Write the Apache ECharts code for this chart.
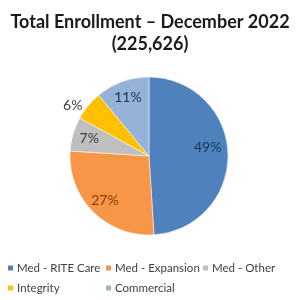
<!DOCTYPE html>
<html><head><meta charset="utf-8">
<script src="https://cdn.jsdelivr.net/npm/echarts@6/dist/echarts.min.js"></script>
<style>html,body{margin:0;padding:0;background:#fff}#c{width:300px;height:300px}</style>
</head><body><div id="c"></div>
<script>
const categories = ['Med - RITE Care', 'Med - Expansion', 'Med - Other', 'Integrity', 'Commercial'];
const shares = [49, 27, 7, 6, 11];
const colors = ['#4F81BD', '#F79646', '#BFBFBF', '#FFC000', '#95B3D7'];
const labelColors = ['#17375E', '#843C0C', '#404040', '#404040', '#17375E'];
const titleText = 'Total Enrollment – December 2022\n(225,626)';

const FONT = 'Lato, "Open Sans", sans-serif';
const center = [149, 156];
const R = 79;

const mainData = categories.map((c, i) => ({ name: c, value: shares[i], itemStyle: { color: colors[i] } }));
const labelData = categories.map((c, i) => ({
  name: c, value: shares[i],
  label: i === 3
    ? { position: 'outside', color: labelColors[i] }
    : (i === 0
      ? { position: 'inside', color: labelColors[i], formatter: '{c}%  \n ', lineHeight: 14 }
      : { position: 'inside', color: labelColors[i] })
}));

const legendPos = [[6, 262], [104, 262], [201, 262], [6, 282], [104, 282]];
const legends = categories.map((c, i) => ({
  left: legendPos[i][0], top: legendPos[i][1], data: [c],
  itemWidth: 7, itemHeight: 7, icon: 'rect', padding: 0,
  textStyle: { fontFamily: FONT, fontSize: 11.5, color: '#404040', padding: [0, 0, 0, -2] }
}));

const chart = echarts.init(document.getElementById('c'), null, { renderer: 'canvas' });
chart.setOption({
  animation: false,
  title: { text: titleText, left: 'center', top: 6,
    textStyle: { fontFamily: FONT, fontWeight: 'bold', fontSize: 18, lineHeight: 22, color: '#1a1a1a' } },
  legend: legends,
  series: [
    { type: 'pie', name: 'main', center: center, radius: [0, R], startAngle: 90, clockwise: true,
      label: { show: false }, labelLine: { show: false }, data: mainData,
      itemStyle: { borderColor: '#fff', borderWidth: 0.5 } },
    { type: 'pie', name: 'labels', center: center, radius: [R * 0.5, R], startAngle: 90, clockwise: true,
      silent: true, legendHoverLink: false,
      itemStyle: { color: 'rgba(0,0,0,0)' },
      label: { show: true, formatter: '{c}%', fontFamily: FONT, fontSize: 14 },
      labelLine: { show: false, length: 1, length2: 0 },
      data: labelData }
  ]
});
</script></body></html>
